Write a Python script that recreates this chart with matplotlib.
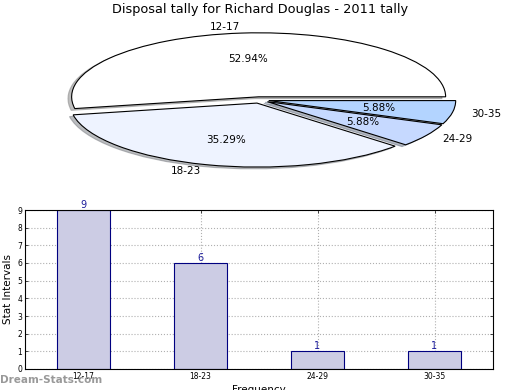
import matplotlib
matplotlib.use("Agg")
import matplotlib.pyplot as plt

title = "Disposal tally for Richard Douglas - 2011 tally"
categories = ["12-17", "18-23", "24-29", "30-35"]
counts = [9, 6, 1, 1]
pie_colors = ["#ffffff", "#eef3ff", "#c6d9ff", "#b3d4ff"]
yticks = [0, 1, 2, 3, 4, 5, 6, 7, 8, 9]

W, H = 520, 390
fig = plt.figure(figsize=(W / 100, H / 100), dpi=100)
fig.patch.set_facecolor("white")

# Pie axes (elliptical)
cx, cy = 259.5, 100
ux, uy = 187, 64
xl, yl = 1.2, 1.12
axp = fig.add_axes([(cx - xl * ux) / W, 1 - (cy + yl * uy) / H,
                    2 * xl * ux / W, 2 * yl * uy / H])
wedges, texts, autotexts = axp.pie(
    counts, labels=categories, colors=pie_colors, explode=[0.05] * 4,
    autopct="%1.2f%%", shadow=dict(ox=-0.014, oy=-0.02, shade=0.5),
    startangle=0,
    wedgeprops=dict(edgecolor="black", linewidth=0.8),
    textprops=dict(fontsize=7.5))
axp.set_aspect("auto")
axp.set_xlim(-xl, xl)
axp.set_ylim(-yl, yl)
axp.axis("off")

fig.text(0.5, 1 - 10 / H, title, ha="center", va="center", fontsize=9.3)

# Bar axes
x0, x1, y0, y1 = 25, 493, 210, 369
axb = fig.add_axes([x0 / W, 1 - y1 / H, (x1 - x0) / W, (y1 - y0) / H])
pos = list(range(len(categories)))
bars = axb.bar(pos, counts, width=0.45, color="#ccccE4", edgecolor="#000080",
               linewidth=0.8, zorder=2)
for p, v in zip(pos, counts):
    axb.text(p, v, str(v), ha="center", va="bottom", fontsize=7,
             color="#1a1a9a", zorder=3)
axb.set_xlim(-0.5, 3.5)
axb.set_ylim(0, 9)
axb.set_xticks(pos)
axb.set_xticklabels(categories)
axb.set_yticks(yticks)
axb.tick_params(direction="in", top=True, right=True, labelsize=5.5,
                length=2.5, width=0.5, pad=2)
axb.grid(True, linestyle=":", color="#b0b0b0", linewidth=0.8, zorder=0)
axb.set_axisbelow(True)
for s in axb.spines.values():
    s.set_linewidth(0.8)
axb.set_ylabel("Stat Intervals", fontsize=7.5, labelpad=3)
axb.set_xlabel("Frequency", fontsize=7.5, labelpad=3)

fig.text(0, 1 - 380 / H, "Dream-Stats.com", ha="left", va="center",
         fontsize=7.5, fontweight="bold", color="#999999")

fig.savefig("out.png", dpi=100)
